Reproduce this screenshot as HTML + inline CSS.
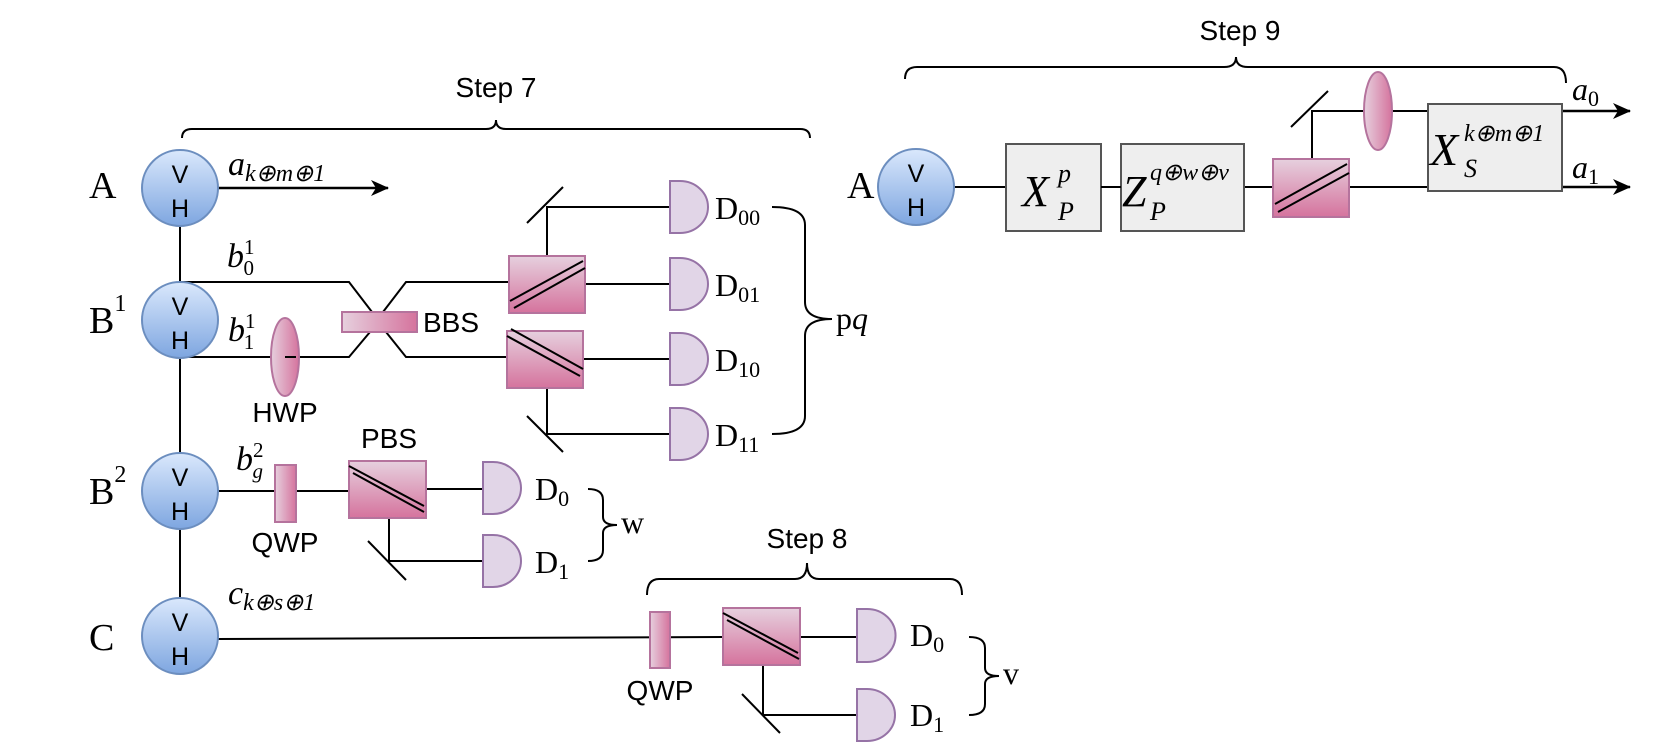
<!DOCTYPE html>
<html><head><meta charset="utf-8"><style>
html,body{margin:0;padding:0;background:#fff;}
svg{display:block;}
.s{font-family:"Liberation Sans",sans-serif;font-size:28px;fill:#000;}
.m{font-family:"Liberation Serif",serif;fill:#000;}
.i{font-family:"Liberation Serif",serif;font-style:italic;fill:#000;}
</style></head><body>
<svg width="1661" height="744" viewBox="0 0 1661 744" xmlns="http://www.w3.org/2000/svg">
<defs>
<linearGradient id="cg" x1="0" y1="0" x2="0" y2="1"><stop offset="0" stop-color="#dae8fc"/><stop offset="1" stop-color="#7ea6e0"/></linearGradient>
<linearGradient id="pg" x1="0" y1="0" x2="0" y2="1"><stop offset="0" stop-color="#e6d0de"/><stop offset="1" stop-color="#d5739d"/></linearGradient>
<linearGradient id="ph" x1="0" y1="0" x2="1" y2="0"><stop offset="0" stop-color="#e6d0de"/><stop offset="1" stop-color="#d5739d"/></linearGradient>
<marker id="ar" markerWidth="18" markerHeight="16" refX="17" refY="8" orient="auto" markerUnits="userSpaceOnUse"><path d="M0,0 L18,8 L0,16 L5,8 Z" fill="#000"/></marker>
</defs>
<g stroke="#000" stroke-width="2" fill="none">
<line x1="180" y1="226" x2="180" y2="282"/>
<line x1="180" y1="358" x2="180" y2="453"/>
<line x1="180" y1="529" x2="180" y2="598"/>
<line x1="218" y1="188" x2="388" y2="188" marker-end="url(#ar)" stroke-width="2.5"/>
<polyline points="180,282 349,282 372,312"/>
<polyline points="383,312 406,282 509,282"/>
<polyline points="180,357 349,357 370,332"/>
<polyline points="386,332 406,357 507,357"/>
<polyline points="547,256 547,207 670,207"/>
<line x1="527" y1="223" x2="563" y2="187"/>
<line x1="585" y1="284" x2="670" y2="284"/>
<line x1="583" y1="359" x2="670" y2="359"/>
<polyline points="547,388 547,434 670,434"/>
<line x1="527" y1="416" x2="563" y2="452"/>
<line x1="218" y1="491" x2="349" y2="491"/>
<line x1="426" y1="489" x2="483" y2="489"/>
<polyline points="389,518 389,561 483,561"/>
<line x1="368" y1="541" x2="406" y2="580"/>
<line x1="218" y1="639" x2="723" y2="637"/>
<line x1="800" y1="637" x2="857" y2="637"/>
<polyline points="763,665 763,715 857,715"/>
<line x1="742" y1="694" x2="780" y2="733"/>
<line x1="954" y1="187" x2="1273" y2="187"/>
<line x1="1349" y1="187" x2="1428" y2="187"/>
<polyline points="1312,159 1312,111 1428,111"/>
<line x1="1291" y1="127" x2="1328" y2="91"/>
<line x1="1562" y1="111" x2="1630" y2="111" marker-end="url(#ar)" stroke-width="2.5"/>
<line x1="1562" y1="187" x2="1630" y2="187" marker-end="url(#ar)" stroke-width="2.5"/>
<path d="M182,138 Q182,129 192,129 L486,129 Q496,129 496,120 Q496,129 506,129 L800,129 Q810,129 810,138"/>
<path d="M905,79 Q905,67 917,67 L1224,67 Q1236,67 1236,57 Q1236,67 1248,67 L1554,67 Q1566,67 1566,83"/>
<path d="M647,595 Q647,579 659,579 L795,579 Q807,579 807,563 Q807,579 819,579 L950,579 Q962,579 962,595"/>
<path d="M772,207 Q805,207 805,225 L805,302 Q805,319 832,319 Q805,319 805,336 L805,416 Q805,434 772,434"/>
<path d="M588,489 Q603,489 603,500 L603,517 Q603,525 617,525 Q603,525 603,533 L603,550 Q603,561 588,561"/>
<path d="M969,637 Q985,637 985,648 L985,668 Q985,676 999,676 Q985,676 985,684 L985,704 Q985,715 969,715"/>
</g>
<g stroke="#6c8ebf" stroke-width="2" fill="url(#cg)">
<circle cx="180" cy="188" r="38"/><circle cx="180" cy="320" r="38"/>
<circle cx="180" cy="491" r="38"/><circle cx="180" cy="636" r="38"/>
<circle cx="916" cy="187" r="38"/>
</g>
<g class="s" text-anchor="middle" style="font-size:25px">
<text x="180" y="183">V</text><text x="180" y="217">H</text>
<text x="180" y="315">V</text><text x="180" y="349">H</text>
<text x="180" y="486">V</text><text x="180" y="520">H</text>
<text x="180" y="631">V</text><text x="180" y="665">H</text>
<text x="916" y="182">V</text><text x="916" y="216">H</text>
</g>
<g stroke="#b5739d" stroke-width="2">
<ellipse cx="285" cy="357" rx="14" ry="39" fill="url(#ph)"/>
<rect x="342" y="312" width="75" height="20" fill="url(#ph)"/>
<rect x="509" y="256" width="76" height="57" fill="url(#pg)"/>
<rect x="507" y="331" width="76" height="57" fill="url(#pg)"/>
<rect x="275" y="465" width="21" height="57" fill="url(#ph)"/>
<rect x="349" y="461" width="77" height="57" fill="url(#pg)"/>
<rect x="650" y="612" width="20" height="56" fill="url(#ph)"/>
<rect x="723" y="608" width="77" height="57" fill="url(#pg)"/>
<rect x="1273" y="159" width="76" height="58" fill="url(#pg)"/>
<ellipse cx="1378" cy="111" rx="14" ry="39" fill="url(#ph)"/>
</g>
<g stroke="#000" stroke-width="2">
<line x1="510" y1="301" x2="583" y2="261"/><line x1="514" y1="308" x2="585" y2="268"/>
<line x1="507" y1="336" x2="580" y2="376"/><line x1="511" y1="329" x2="583" y2="369"/>
<line x1="349" y1="466" x2="424" y2="506"/><line x1="353" y1="473" x2="424" y2="512"/>
<line x1="723" y1="613" x2="798" y2="653"/><line x1="727" y1="620" x2="799" y2="659"/>
<line x1="1275" y1="204" x2="1347" y2="164"/><line x1="1278" y1="212" x2="1349" y2="173"/>
<line x1="285" y1="357" x2="296" y2="357"/>
</g>
<g stroke="#555" stroke-width="2" fill="#eeeeee">
<rect x="1006" y="144" width="95" height="87"/>
<rect x="1121" y="144" width="123" height="87"/>
<rect x="1428" y="104" width="134" height="87"/>
</g>
<line x1="1101" y1="187" x2="1121" y2="187" stroke="#000" stroke-width="2"/>
<g stroke="#9673a6" stroke-width="2" fill="#e1d5e7">
<path d="M670,181 L680,181 A28,26 0 0 1 680,233 L670,233 Z"/>
<path d="M670,258 L680,258 A28,26 0 0 1 680,310 L670,310 Z"/>
<path d="M670,333 L680,333 A28,26 0 0 1 680,385 L670,385 Z"/>
<path d="M670,408 L680,408 A28,26 0 0 1 680,460 L670,460 Z"/>
<path d="M483,462 L493,462 A28,26 0 0 1 493,514 L483,514 Z"/>
<path d="M483,535 L493,535 A28,26 0 0 1 493,587 L483,587 Z"/>
<path d="M857,609 L867,609 A28,26 0 0 1 867,662 L857,662 Z"/>
<path d="M857,689 L867,689 A28,26 0 0 1 867,741 L857,741 Z"/>
</g>
<g class="s">
<text x="496" y="97" text-anchor="middle">Step 7</text>
<text x="1240" y="40" text-anchor="middle">Step 9</text>
<text x="807" y="548" text-anchor="middle">Step 8</text>
<text x="423" y="332">BBS</text>
<text x="285" y="422" text-anchor="middle">HWP</text>
<text x="389" y="448" text-anchor="middle">PBS</text>
<text x="285" y="552" text-anchor="middle">QWP</text>
<text x="660" y="700" text-anchor="middle">QWP</text>
</g>
<g class="m" font-size="38">
<text x="89" y="198">A</text>
<text x="89" y="333">B<tspan font-size="24" dy="-22">1</tspan></text>
<text x="89" y="504">B<tspan font-size="24" dy="-22">2</tspan></text>
<text x="89" y="650">C</text>
<text x="847" y="198">A</text>
</g>
<g class="m" font-size="32">
<text x="715" y="219">D<tspan font-size="22" dy="6">00</tspan></text>
<text x="715" y="296">D<tspan font-size="22" dy="6">01</tspan></text>
<text x="715" y="371">D<tspan font-size="22" dy="6">10</tspan></text>
<text x="715" y="446">D<tspan font-size="22" dy="6">11</tspan></text>
<text x="535" y="500">D<tspan font-size="22" dy="6">0</tspan></text>
<text x="535" y="573">D<tspan font-size="22" dy="6">1</tspan></text>
<text x="910" y="646">D<tspan font-size="22" dy="6">0</tspan></text>
<text x="910" y="726">D<tspan font-size="22" dy="6">1</tspan></text>
<text x="836" y="329">p<tspan font-style="italic">q</tspan></text>
<text x="621" y="533">w</text>
<text x="1003" y="684">v</text>
</g>
<g class="i">
<text x="228" y="175" font-size="34">a<tspan font-size="24" dy="6">k⊕m⊕1</tspan></text>
<text x="227" y="267" font-size="34">b<tspan font-size="21" dy="-13" font-style="normal">1</tspan><tspan font-style="normal" font-size="21" dx="-11" dy="21">0</tspan></text>
<text x="228" y="341" font-size="34">b<tspan font-size="21" dy="-13" font-style="normal">1</tspan><tspan font-style="normal" font-size="21" dx="-11" dy="21">1</tspan></text>
<text x="236" y="470" font-size="34">b<tspan font-size="21" dy="-13" font-style="normal">2</tspan><tspan font-size="21" dx="-11" dy="21">g</tspan></text>
<text x="228" y="604" font-size="34">c<tspan font-size="24" dy="6">k⊕s⊕1</tspan></text>
<text x="1572" y="100" font-size="32">a<tspan font-style="normal" font-size="22" dy="6">0</tspan></text>
<text x="1572" y="178" font-size="32">a<tspan font-style="normal" font-size="22" dy="6">1</tspan></text>
<text x="1022" y="206" font-size="44">X</text>
<text x="1058" y="182" font-size="26">p</text>
<text x="1058" y="220" font-size="26">P</text>
<text x="1122" y="206" font-size="44">Z</text>
<text x="1150" y="180" font-size="24">q⊕w⊕v</text>
<text x="1150" y="220" font-size="26">P</text>
<text x="1430" y="165" font-size="46">X</text>
<text x="1464" y="141" font-size="24">k⊕m⊕1</text>
<text x="1464" y="177" font-size="26">S</text>
</g>
</svg>
</body></html>
